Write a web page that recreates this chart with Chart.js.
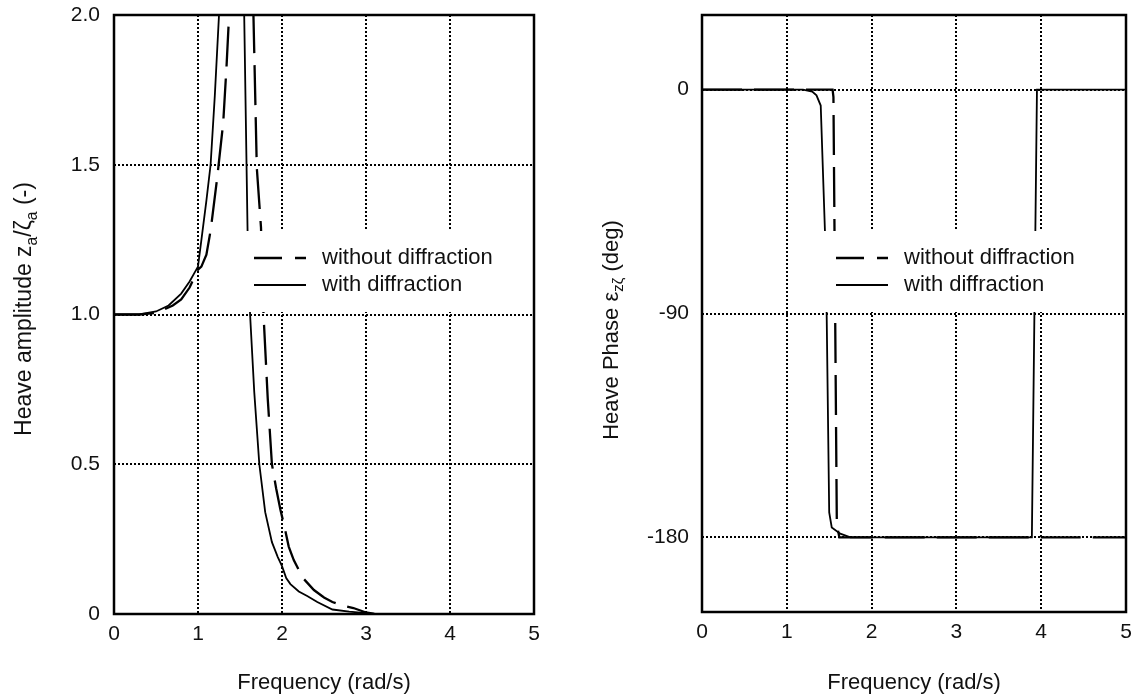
<!DOCTYPE html>
<html>
<head>
<meta charset="utf-8">
<title>Heave response</title>
<script src="https://cdn.jsdelivr.net/npm/chart.js@4.4.1/dist/chart.umd.min.js"></script>
<style>
  html, body { margin: 0; padding: 0; background: #fff; }
  #wrap { position: relative; width: 1140px; height: 700px; }
  #ampChart { position: absolute; left: 0; top: 0; }
  #phaseChart { position: absolute; left: 570px; top: 0; }
</style>
</head>
<body>
<div id="wrap">
  <canvas id="ampChart" width="560" height="700"></canvas>
  <canvas id="phaseChart" width="570" height="700"></canvas>
</div>
<script>
// axis ticks
const freqTicks = [0, 1, 2, 3, 4, 5];
const ampTicks = [0, 0.5, 1.0, 1.5, 2.0];
const phaseTicks = [-180, -90, 0];
const seriesLabels = ['without diffraction', 'with diffraction'];

// heave amplitude, without diffraction (dashed)
const ampNoDiffFreq = [0, 0.3, 0.5, 0.7, 0.8, 0.9, 1.0, 1.04, 1.1, 1.15, 1.23, 1.3, 1.34, 1.37, 1.52, 1.66, 1.7, 1.75, 1.78, 1.83, 1.88, 1.93, 1.98, 2.03, 2.08, 2.14, 2.25, 2.38, 2.5, 2.6, 2.7, 2.85, 3.0, 3.1];
const ampNoDiff = [1.0, 1.0, 1.005, 1.03, 1.05, 1.09, 1.15, 1.16, 1.2, 1.28, 1.46, 1.64, 1.83, 2.0, 4.0, 2.0, 1.49, 1.29, 1.0, 0.72, 0.5, 0.42, 0.35, 0.29, 0.225, 0.18, 0.12, 0.08, 0.055, 0.04, 0.03, 0.02, 0.005, 0.0];

// heave amplitude, with diffraction (solid)
const ampDiffFreq = [0, 0.3, 0.5, 0.65, 0.8, 0.9, 1.0, 1.05, 1.1, 1.15, 1.2, 1.25, 1.4, 1.55, 1.59, 1.62, 1.67, 1.73, 1.8, 1.88, 1.95, 2.0, 2.05, 2.1, 2.2, 2.3, 2.42, 2.6, 2.8, 3.0, 3.1];
const ampDiff = [1.0, 1.0, 1.01, 1.03, 1.07, 1.11, 1.16, 1.27, 1.38, 1.5, 1.73, 2.0, 4.5, 2.0, 1.28, 1.0, 0.74, 0.5, 0.34, 0.24, 0.19, 0.16, 0.12, 0.1, 0.075, 0.06, 0.04, 0.015, 0.008, 0.003, 0.0];

// heave phase (deg), without diffraction (dashed)
const phaseNoDiffFreq = [0, 1.54, 1.55, 1.59, 1.62, 5.0];
const phaseNoDiff = [0, 0, -3, -175, -180, -180];

// heave phase (deg), with diffraction (solid)
const phaseDiffFreq = [0, 1.19, 1.3, 1.35, 1.4, 1.45, 1.47, 1.5, 1.53, 1.63, 1.75, 3.89, 3.95, 5.0];
const phaseDiff = [0, 0, -0.8, -2.3, -6.4, -57, -90, -170, -176, -178.5, -180, -180, 0, 0];

const FONT = '"Liberation Sans", Arial, sans-serif';
const INK = '#111';

function pts(xs, ys) {
    return xs.map((x, i) => ({ x: x, y: ys[i] }));
}

// thick frame round the plot area
const framePlugin = {
    id: 'frame',
    afterDraw(chart) {
        const { ctx, chartArea: a } = chart;
        ctx.save();
        ctx.strokeStyle = '#000';
        ctx.lineWidth = 2.5;
        ctx.strokeRect(a.left, a.top, a.right - a.left, a.bottom - a.top);
        ctx.restore();
    }
};

// white legend box drawn over the curves
const boxLegendPlugin = {
    id: 'boxLegend',
    afterDatasetsDraw(chart, args, opts) {
        const { ctx, chartArea: a } = chart;
        const x0 = a.left + opts.sampleX;
        ctx.save();
        ctx.fillStyle = '#fff';
        ctx.fillRect(x0 - opts.boxPad, a.top + opts.boxTop, a.right - (x0 - opts.boxPad), opts.boxHeight);
        chart.data.datasets.forEach((ds, i) => {
            const y = a.top + opts.rowY[i];
            ctx.strokeStyle = '#000';
            ctx.lineWidth = ds.borderWidth;
            ctx.setLineDash(opts.dashes[i]);
            ctx.beginPath();
            ctx.moveTo(x0, y);
            ctx.lineTo(x0 + 52, y);
            ctx.stroke();
            ctx.setLineDash([]);
            ctx.fillStyle = INK;
            ctx.font = '22px ' + FONT;
            ctx.textBaseline = 'middle';
            ctx.fillText(ds.label, x0 + opts.textGap, y);
        });
        ctx.restore();
    }
};

// rotated y title with subscripts
const yTitlePlugin = {
    id: 'yTitle',
    afterDraw(chart, args, opts) {
        const ctx = chart.ctx;
        const size = opts.size;
        const parts = opts.parts;
        ctx.save();
        ctx.translate(opts.x, opts.y);
        ctx.rotate(-Math.PI / 2);
        let total = 0;
        parts.forEach(p => {
            ctx.font = (p.sub ? size * 0.68 : size) + 'px ' + FONT;
            p.w = ctx.measureText(p.t).width;
            total += p.w;
        });
        let x = -total / 2;
        ctx.fillStyle = INK;
        ctx.textBaseline = 'middle';
        parts.forEach(p => {
            ctx.font = (p.sub ? size * 0.68 : size) + 'px ' + FONT;
            ctx.fillText(p.t, x, p.sub ? size * 0.32 : 0);
            x += p.w;
        });
        ctx.restore();
    }
};

function scaleCommon(tickValues) {
    return {
        type: 'linear',
        grid: { color: '#000', lineWidth: 2, drawTicks: false },
        border: { display: false, dash: [2, 2] },
        afterBuildTicks: axis => { axis.ticks = tickValues.map(v => ({ value: v })); }
    };
}

function makeChart(id, cfg) {
    const xScale = Object.assign(scaleCommon(freqTicks), {
        min: 0, max: 5,
        ticks: { color: INK, font: { size: 21, family: FONT }, padding: 8, maxRotation: 0 },
        title: { display: true, text: 'Frequency (rad/s)', color: INK, font: { size: 22, family: FONT }, padding: { top: 0, bottom: 4 } },
        afterFit: s => { s.height = cfg.xAxisHeight; }
    });
    const yScale = Object.assign(scaleCommon(cfg.yTicks), {
        min: cfg.yMin, max: cfg.yMax,
        ticks: { color: INK, font: { size: 21, family: FONT }, padding: cfg.yTickPad, callback: cfg.yFormat },
        afterFit: s => { s.width = cfg.yAxisWidth; s.paddingTop = 0; s.paddingBottom = 0; }
    });
    return new Chart(document.getElementById(id), {
        type: 'line',
        data: {
            datasets: [
                { label: seriesLabels[0], data: cfg.noDiff, borderColor: '#000', borderWidth: 2.3, borderDash: [40, 12], pointRadius: 0, tension: 0, fill: false },
                { label: seriesLabels[1], data: cfg.diff, borderColor: '#000', borderWidth: 1.8, pointRadius: 0, tension: 0, fill: false }
            ]
        },
        options: {
            responsive: false,
            animation: false,
            layout: { padding: { top: 15, right: cfg.rightPad, left: 0, bottom: 0 } },
            scales: { x: xScale, y: yScale },
            plugins: {
                legend: { display: false },
                tooltip: { enabled: false },
                boxLegend: { sampleX: cfg.sampleX, textGap: 68, boxPad: 22, boxTop: 216, boxHeight: 81, rowY: [243, 270], dashes: [[28, 13], []] },
                yTitle: { x: cfg.titleX, y: cfg.titleY, size: cfg.titleSize, parts: cfg.titleParts }
            }
        },
        plugins: [boxLegendPlugin, framePlugin, yTitlePlugin]
    });
}

makeChart('ampChart', {
    yTicks: ampTicks, yMin: 0, yMax: 2,
    yFormat: v => (v === 0 ? '0' : v.toFixed(1)),
    yAxisWidth: 114, yTickPad: 14, xAxisHeight: 86, rightPad: 26,
    sampleX: 140,
    titleX: 25, titleY: 309, titleSize: 23,
    titleParts: [{ t: 'Heave amplitude z' }, { t: 'a', sub: true }, { t: '/\u03B6' }, { t: 'a', sub: true }, { t: ' (-)' }],
    noDiff: pts(ampNoDiffFreq, ampNoDiff),
    diff: pts(ampDiffFreq, ampDiff)
});

makeChart('phaseChart', {
    yTicks: phaseTicks, yMin: -210, yMax: 30,
    yFormat: v => String(v),
    yAxisWidth: 132, yTickPad: 13, xAxisHeight: 88, rightPad: 14,
    sampleX: 134,
    titleX: 42, titleY: 330, titleSize: 22,
    titleParts: [{ t: 'Heave Phase \u03B5' }, { t: 'z\u03B6', sub: true }, { t: ' (deg)' }],
    noDiff: pts(phaseNoDiffFreq, phaseNoDiff),
    diff: pts(phaseDiffFreq, phaseDiff)
});
</script>
</body>
</html>
